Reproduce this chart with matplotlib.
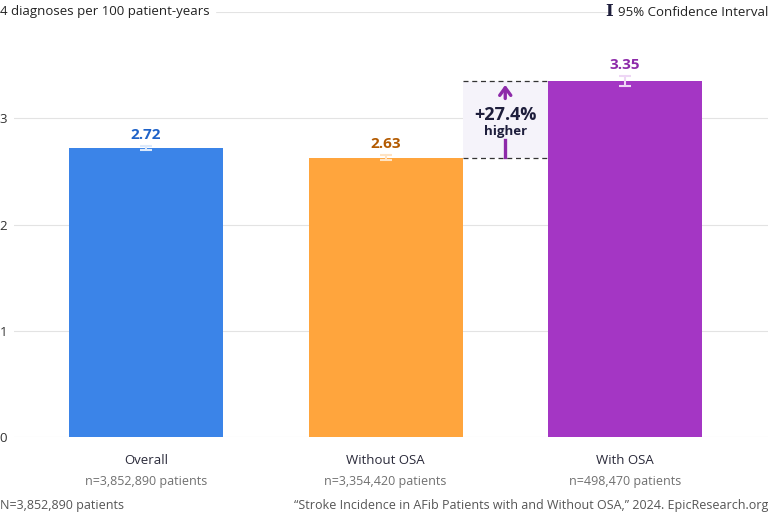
import matplotlib
matplotlib.use("Agg")
import matplotlib.pyplot as plt
from matplotlib.patches import Rectangle

categories = ["Overall", "Without OSA", "With OSA"]
counts = ["n=3,852,890 patients", "n=3,354,420 patients", "n=498,470 patients"]
values = [2.72, 2.63, 3.35]
ci_low = [2.70, 2.61, 3.30]
ci_high = [2.74, 2.65, 3.40]
bar_colors = ["#3b84e8", "#ffa53d", "#a436c4"]
label_colors = ["#1e62c8", "#b35a00", "#8d2aa9"]
err_colors = ["#dce9fb", "#ffe3c2", "#eed6f5"]
yticks = [0, 1, 2, 3, 4]
diff_text = "+27.4%"

plt.rcParams['font.family'] = ['Open Sans', 'DejaVu Sans']

W, H = 768, 512
fig = plt.figure(figsize=(W/100, H/100), dpi=100)
ax = fig.add_axes([14/W, (H-437)/H, (W-14)/W, (437-12)/H])

spacing = 239.5
xmin = -(146-14)/spacing
xmax = xmin + (W-14)/spacing
ax.set_xlim(xmin, xmax)
ax.set_ylim(0, 4)

for s in ax.spines.values():
    s.set_visible(False)
ax.set_yticks(yticks)
ax.yaxis.grid(True, color="#e3e3e3", lw=0.8)
ax.set_axisbelow(True)
ax.tick_params(axis='both', length=0)
ax.set_yticklabels([str(t) for t in yticks[:-1]] + [""], fontsize=9.5, color="#333333")
ax.tick_params(axis='y', pad=5)
ax.set_xticks([])

bw = 154/spacing
x = list(range(len(categories)))
ax.bar(x, values, width=bw, color=bar_colors, zorder=2)

for i in x:
    ax.errorbar(i, values[i], yerr=[[values[i]-ci_low[i]], [ci_high[i]-values[i]]],
                fmt='none', ecolor=err_colors[i], elinewidth=1.5, capsize=4, capthick=1.5, zorder=3)
    ax.annotate(f"{values[i]:.2f}", (i, ci_high[i]), xytext=(0, 3), textcoords='offset points',
                ha='center', va='bottom', fontsize=11, fontweight='bold', color=label_colors[i], zorder=4)
    ax.annotate(categories[i], (i, 0), xytext=(0, -12), textcoords='offset points',
                ha='center', va='top', fontsize=9.5, color="#2a2a3a", annotation_clip=False)
    ax.annotate(counts[i], (i, 0), xytext=(0, -27), textcoords='offset points',
                ha='center', va='top', fontsize=9, color="#707070", annotation_clip=False)

# comparison box
x_left = 1 + bw/2
x_right = 2 - bw/2
ax.add_patch(Rectangle((x_left, values[1]), x_right-x_left, values[2]-values[1],
                       facecolor="#f5f3fa", edgecolor='none', zorder=1.5))
for yv in (values[1], values[2]):
    ax.plot([x_left, x_right], [yv, yv], ls=(0, (4, 3)), color="#333333", lw=0.9, zorder=2.5)
xm = (x_left + x_right)/2
ax.annotate("", xy=(xm, values[2]-0.01), xytext=(xm, values[2]-0.19),
            arrowprops=dict(arrowstyle="->,head_width=0.4,head_length=0.55", color="#8d2aa9", lw=2.4))
ax.plot([xm, xm], [values[1]+0.01, values[1]+0.17], color="#8d2aa9", lw=2.4, zorder=3)
ax.text(xm, 3.03, diff_text, ha='center', va='center', fontsize=13, fontweight='bold', color="#1e1e3c")
ax.text(xm, 2.88, "higher", ha='center', va='center', fontsize=9.5, fontweight='bold', color="#1e1e3c")

# top header texts
fig.text(0, 1-12/H, "4 diagnoses per 100 patient-years", ha='left', va='center', fontsize=9.5,
         color="#222222", backgroundcolor='white')
fig.text(W/W, 1-12/H, "95% Confidence Interval", ha='right', va='center', fontsize=9.5,
         color="#222222", backgroundcolor='white')
fig.text(609/W, 1-11/H, "I", ha='center', va='center', fontsize=12, fontweight='bold',
         color="#1e1e3c", family=['DejaVu Serif'])

# footer
fig.text(0, 1-505/H, "N=3,852,890 patients", ha='left', va='center', fontsize=9, color="#555555")
fig.text(1, 1-505/H, "\u201cStroke Incidence in AFib Patients with and Without OSA,\u201d 2024. EpicResearch.org",
         ha='right', va='center', fontsize=9, color="#555555")

fig.savefig("out.png", dpi=100)
